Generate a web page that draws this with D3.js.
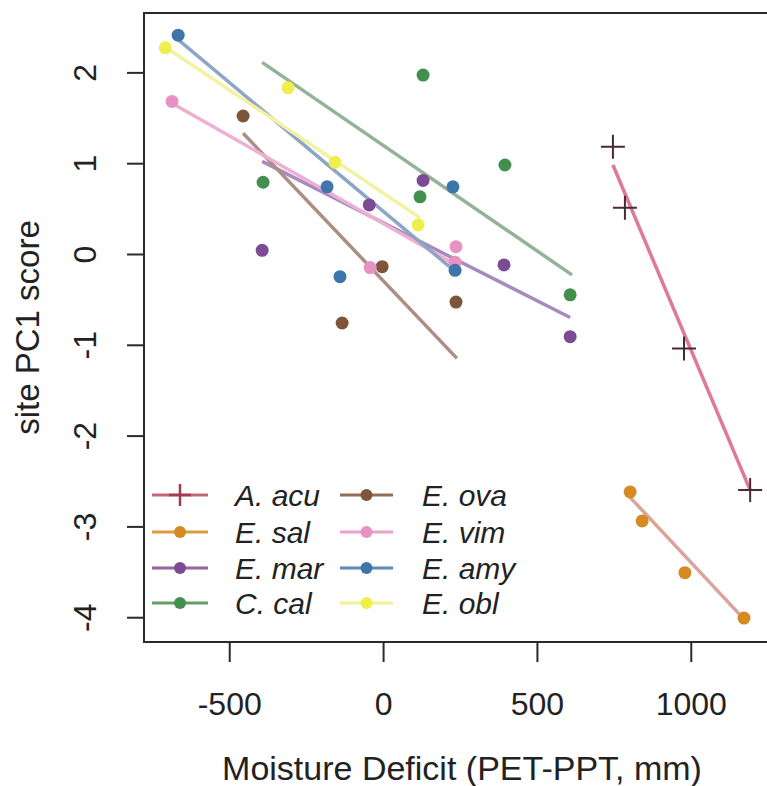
<!DOCTYPE html>
<html>
<head>
<meta charset="utf-8">
<script src="https://cdn.jsdelivr.net/npm/d3@7"></script>
<style>
  html, body { margin: 0; padding: 0; background: #fff; }
  svg { display: block; font-family: "Liberation Sans", Arial, sans-serif; }
</style>
</head>
<body>
<svg id="chart" width="767" height="786"></svg>
<script>
// ---------- data ----------
const speciesNames = ["A. acu", "E. sal", "E. mar", "C. cal", "E. ova", "E. vim", "E. amy", "E. obl"];
const speciesColors = ["#c8405e", "#d58a22", "#7d4b93", "#438f4e", "#7f5539", "#e792c2", "#3e75ab", "#eeee4c"];
const lineColors   = ["#e07898", "#d9a49a", "#a68ac0", "#93b397", "#ab8f84", "#eeb0d2", "#8ea6c6", "#f2f2a2"];

// site points: species index, moisture deficit (mm), site PC1 score
const pointSpecies = [0,0,0,0, 1,1,1,1, 2,2,2,2,2, 3,3,3,3,3, 4,4,4,4, 5,5,5,5, 6,6,6,6,6, 7,7,7,7];
const pointDeficit = [747,786,978,1193, 803,842,981,1173, -393,-45,130,393,608, -390,130,120,396,608,
                      -455,-133,-3,237, -686,-42,237,234, -666,-182,-140,227,234, -708,-309,-156,114];
const pointPC1     = [1.18,0.51,-1.04,-2.60, -2.62,-2.94,-3.51,-4.01, 0.04,0.54,0.81,-0.12,-0.91,
                      0.79,1.97,0.63,0.98,-0.45, 1.52,-0.76,-0.14,-0.53, 1.68,-0.15,0.08,-0.09,
                      2.41,0.74,-0.25,0.74,-0.18, 2.27,1.83,1.01,0.32];

// fitted lines per species (start / end)
const fitX0 = [747, 803, -393, -393, -455, -686, -666, -708];
const fitY0 = [0.98, -2.68, 1.02, 2.11, 1.33, 1.66, 2.36, 2.28];
const fitX1 = [1193, 1170, 608, 614, 240, 237, 237, 120];
const fitY1 = [-2.60, -4.01, -0.70, -0.23, -1.15, -0.12, -0.20, 0.40];

const xTicks = [-500, 0, 500, 1000];
const yTicks = [2, 1, 0, -1, -2, -3, -4];
const xTitle = "Moisture Deficit (PET-PPT, mm)";
const yTitle = "site PC1 score";

// ---------- layout ----------
const svg = d3.select("#chart");
const L = 144, R = 772, T = 13, B = 642;
const x = d3.scaleLinear().domain([-777, 1264]).range([L, R]);
const y = d3.scaleLinear().domain([-4.273, 2.654]).range([B, T]);

svg.append("rect").attr("width", 767).attr("height", 786).attr("fill", "#fff");

// fitted lines
const fits = d3.range(speciesNames.length).map(i => ({i, x0: fitX0[i], y0: fitY0[i], x1: fitX1[i], y1: fitY1[i]}));
svg.append("g").selectAll("line").data(fits).join("line")
  .attr("x1", d => x(d.x0)).attr("y1", d => y(d.y0))
  .attr("x2", d => x(d.x1)).attr("y2", d => y(d.y1))
  .attr("stroke", d => lineColors[d.i]).attr("stroke-width", 3.5).attr("stroke-linecap", "butt");

// points
const pts = pointSpecies.map((s, k) => ({s, xv: pointDeficit[k], yv: pointPC1[k]}));
const g = svg.append("g");
g.selectAll("circle").data(pts.filter(d => d.s !== 0)).join("circle")
  .attr("cx", d => x(d.xv)).attr("cy", d => y(d.yv)).attr("r", 6.5)
  .attr("fill", d => speciesColors[d.s]);
g.selectAll("path").data(pts.filter(d => d.s === 0)).join("path")
  .attr("transform", d => `translate(${x(d.xv)},${y(d.yv)})`)
  .attr("d", "M-12,0H12M0,-12V12")
  .attr("stroke", "#4a2a36").attr("stroke-width", 2).attr("fill", "none");

// frame
svg.append("rect").attr("x", L).attr("y", T).attr("width", R - L).attr("height", B - T)
  .attr("fill", "none").attr("stroke", "#2a2a2a").attr("stroke-width", 2);

// x axis
const xAxis = svg.append("g").attr("transform", `translate(0,${B})`)
  .call(d3.axisBottom(x).tickValues(xTicks).tickSize(20).tickPadding(30).tickFormat(d3.format("d")));
xAxis.select(".domain").remove();
xAxis.selectAll("line").attr("stroke", "#2a2a2a").attr("stroke-width", 2);
xAxis.selectAll("text").attr("font-size", 32).attr("fill", "#222")
  .attr("font-family", "Liberation Sans, Arial, sans-serif").text(d => d < 0 ? "-" + Math.abs(d) : d);

// y axis
const yAxis = svg.append("g").attr("transform", `translate(${L},0)`)
  .call(d3.axisLeft(y).tickValues(yTicks).tickSize(17).tickFormat(d3.format("d")));
yAxis.select(".domain").remove();
yAxis.selectAll("line").attr("stroke", "#2a2a2a").attr("stroke-width", 2);
yAxis.selectAll("text")
  .attr("transform", "rotate(-90)")
  .attr("x", 0).attr("y", -48).attr("dy", 0)
  .attr("text-anchor", "middle")
  .attr("font-size", 32).attr("fill", "#222")
  .attr("font-family", "Liberation Sans, Arial, sans-serif")
  .text(d => d < 0 ? "-" + Math.abs(d) : d);

// titles
svg.append("text").attr("x", 462).attr("y", 780)
  .attr("text-anchor", "middle").attr("font-size", 34).attr("fill", "#222").text(xTitle);
svg.append("text").attr("transform", `translate(39,${(T + B) / 2}) rotate(-90)`)
  .attr("text-anchor", "middle").attr("font-size", 33).attr("fill", "#222").text(yTitle);

// legend
const legRows = [495, 532, 568, 603];
const legCols = [{x0: 152, x1: 208, tx: 235}, {x0: 340, x1: 393, tx: 422}];
const leg = svg.append("g");
speciesNames.forEach((name, i) => {
  const c = legCols[Math.floor(i / 4)], ry = legRows[i % 4];
  const cx = (c.x0 + c.x1) / 2;
  leg.append("line").attr("x1", c.x0).attr("x2", c.x1).attr("y1", ry).attr("y2", ry)
    .attr("stroke", i === 0 ? "#b84a5e" : i === 7 ? "#eef07a" : speciesColors[i])
    .attr("stroke-width", 3).attr("stroke-opacity", 0.85);
  if (i === 0) {
    leg.append("path").attr("transform", `translate(${cx},${ry})`).attr("d", "M-11,0H11M0,-11V11")
      .attr("stroke", "#a8384e").attr("stroke-width", 2.5);
  } else {
    leg.append("circle").attr("cx", cx).attr("cy", ry).attr("r", 6).attr("fill", speciesColors[i]);
  }
  leg.append("text").attr("x", c.tx).attr("y", ry).attr("dy", "0.36em")
    .attr("font-size", 30).attr("font-style", "italic").attr("fill", "#222").text(name);
});
</script>
</body>
</html>
